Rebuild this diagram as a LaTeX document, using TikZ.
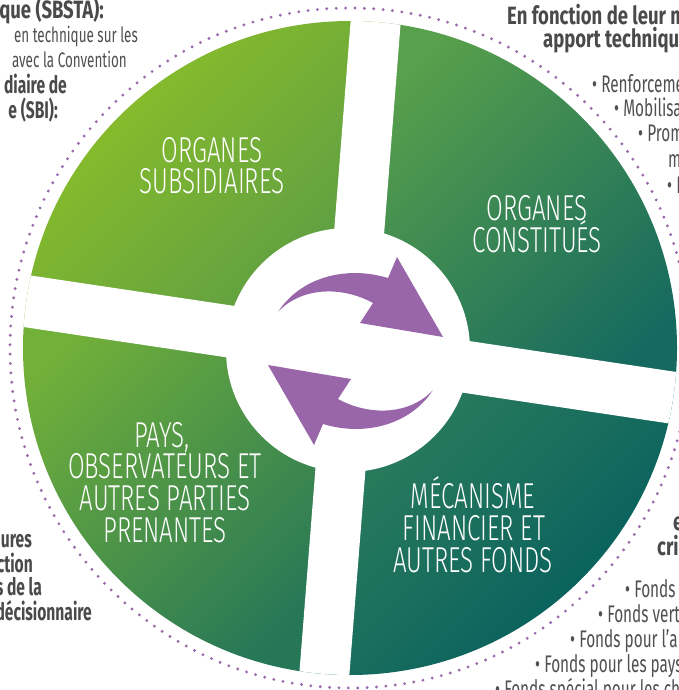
\documentclass[tikz,border=0pt]{standalone}
\usepackage{fontspec}
\setmainfont{Fira Sans}[FakeStretch=0.64, BoldFeatures={FakeStretch=0.74}]
\newfontfamily\narrowfont{Fira Sans}[FakeStretch=0.62, BoldFeatures={FakeStretch=0.65}]
\newfontfamily\labfont{Fira Sans}[UprightFont={* Light}, FakeStretch=0.67]
\definecolor{arrowpurple}{HTML}{9966AA}
\definecolor{dotpurple}{HTML}{9B6AAE}
\definecolor{txtgrey}{HTML}{505052}
\definecolor{txtdark}{HTML}{4A4A4C}
\definecolor{ula}{HTML}{92C424}\definecolor{uld}{HTML}{5A9B46}
\definecolor{ura}{HTML}{58A04B}\definecolor{urd}{HTML}{16695F}
\definecolor{lla}{HTML}{72B039}\definecolor{lld}{HTML}{267658}
\definecolor{lra}{HTML}{2F7F5B}\definecolor{lrd}{HTML}{005A5F}
\tikzset{
  lab/.style={text=white, font=\labfont\fontsize{36}{36}\selectfont, anchor=base, inner sep=0pt},
  otr/.style={text=txtgrey, font=\fontsize{24}{25}\selectfont, inner sep=0pt},
  otrs/.style={text=txtgrey, font=\fontsize{21}{23}\selectfont, inner sep=0pt},
  otb/.style={text=txtdark, font=\bfseries\fontsize{25}{26}\selectfont, inner sep=0pt},
  otbn/.style={text=txtdark, font=\narrowfont\bfseries\fontsize{24}{25}\selectfont, inner sep=0pt},
  dotring/.style={draw=dotpurple, line width=3.2pt, line cap=round, dash pattern=on 0pt off 9.4pt},
  arrowshape/.style={fill=arrowpurple},
  seg/.style 2 args={top color=#1, bottom color=#2, shading angle=45}
}
\begin{document}
\begin{tikzpicture}[x=1pt,y=-1pt]
\useasboundingbox (0,0) rectangle (679,690);
\clip (0,0) rectangle (679,690);
\fill[white] (0,0) rectangle (679,690);
\coordinate (C) at (350,348);
\coordinate (H) at (350,349.5);
\coordinate (W) at (348,350);
% segments
\begin{scope}
  \clip (C) circle (327);
  \begin{scope}[shift={(C)}, rotate=-6]
    \shade[seg={ula}{uld}] (-330,-330) rectangle (0,0);
    \shade[seg={ura}{urd}] (0,-330) rectangle (330,0);
    \shade[seg={lla}{lld}] (-330,0) rectangle (0,330);
    \shade[seg={lra}{lrd}] (0,0) rectangle (330,330);
  \end{scope}
  \begin{scope}[shift={(C)}, rotate=-4.5]
    \fill[white] (-25,-340) rectangle (25,340);
  \end{scope}
  \begin{scope}[shift={(H)}, rotate=-8.5]
    \fill[white] (-340,-26) rectangle (340,26);
  \end{scope}
  \fill[white] (W) circle (122);
\end{scope}
% dotted ring
\draw[dotring] (C) circle (340);
% arrows
\fill[arrowshape] (278,312) .. controls (300,278) and (345,265) .. (388,278) -- (397,257) -- (443,337) -- (360,323) -- (373,303) .. controls (340,285) and (300,288) .. (278,312) -- cycle;
\begin{scope}[rotate around={180:(355.5,351)}]
\fill[arrowshape] (278,312) .. controls (300,278) and (345,265) .. (388,278) -- (397,257) -- (443,337) -- (360,323) -- (373,303) .. controls (340,285) and (300,288) .. (278,312) -- cycle;
\end{scope}
% segment labels
\node[lab] (s1) at (212,162) {ORGANES};
\node[lab] (s2) at (212,193) {SUBSIDIAIRES};
\node[lab] (c1) at (537,220) {ORGANES};
\node[lab] (c2) at (537,252) {CONSTITUÉS};
\node[lab] (p1) at (162,447) {PAYS,};
\node[lab] (p2) at (165,478) {OBSERVATEURS ET};
\node[lab] (p3) at (165,510) {AUTRES PARTIES};
\node[lab] (p4) at (165,542) {PRENANTES};
\node[lab] (m1) at (473,508) {MÉCANISME};
\node[lab] (m2) at (474,540) {FINANCIER ET};
\node[lab] (m3) at (473,572) {AUTRES FONDS};
% top-left text
\node[otb, anchor=base east] (tl1) at (104,19) {que (SBSTA):};
\node[otrs, anchor=base east] (tl2) at (138,43) {en technique sur les};
\node[otrs, anchor=base east] (tl3) at (127,68) {avec la Convention};
\node[otbn, anchor=base east] (tl4) at (67,94) {diaire de};
\node[otbn, anchor=base east] (tl5) at (58,118) {e (SBI):};
% top-right text
\node[otb, anchor=base west] (tr1) at (507,25) {En fonction de leur m};
\node[otb, anchor=base west] (tr2) at (543,48) {apport technique};
\node[otr, anchor=base west] (tr3) at (592,93) {• Renforceme};
\node[otr, anchor=base west] (tr4) at (614,117) {• Mobilisa};
\node[otr, anchor=base west] (tr5) at (638,142) {• Prom};
\node[otr, anchor=base west] (tr6) at (668,167) {m};
\node[otr, anchor=base west] (tr7) at (667,193) {• I};
% bottom-left text
\node[otbn, anchor=base east] (bl1) at (32,547) {ures};
\node[otbn, anchor=base east] (bl2) at (33,572) {ction};
\node[otbn, anchor=base east] (bl3) at (42,595) {s de la};
\node[otbn, anchor=base east] (bl4) at (92,620) {décisionnaire};
% bottom-right text
\node[otb, anchor=base west] (br1) at (673,530) {e};
\node[otb, anchor=base west] (br2) at (657,555) {cri};
\node[otr, anchor=base west] (br3) at (625,597) {• Fonds p};
\node[otr, anchor=base west] (br4) at (598,622) {• Fonds vert};
\node[otr, anchor=base west] (br5) at (570,647) {• Fonds pour l’a};
\node[otr, anchor=base west] (br6) at (535,672) {• Fonds pour les pays};
\node[otr, anchor=base west] (br7) at (495,697) {• Fonds spécial pour les ch};
\end{tikzpicture}
\end{document}
